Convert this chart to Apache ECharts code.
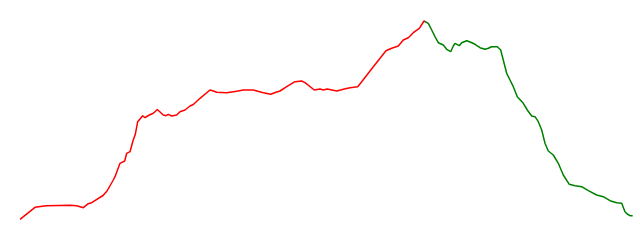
<!DOCTYPE html>
<html>
<head>
<meta charset="utf-8">
<script src="https://cdn.jsdelivr.net/npm/echarts@6/dist/echarts.min.js"></script>
<style>html,body{margin:0;padding:0;background:#fff}#c{width:640px;height:240px}</style>
</head>
<body>
<div id="c"></div>
<script>
var distance = [0,15,26,50,52,56.7,63.3,68.3,71.7,83,87,93.3,95,100,104.7,106.7,110,112.7,115.3,117.7,120,122.7,125,129.3,133.3,137.3,139.3,143.3,146,148.3,151.7,156.7,160,165,170,173.3,180,190,192.7,196.7,206.7,216.7,223.3,233.3,243.3,250.7,256,260,266.7,275,281.7,285,294.3,300,303.3,307.3,316.7,323.3,330,337.7,341.7,353.3,366,371.7,378.3,383.3,388.3,393.3,399.3,404,405.5,408.3,411.7,415,418.3,423.3,426.7,430.7,433.3,435,439.3,441.7,446.7,450.7,455,460,465,468.3,471.7,477.3,480.7,485,486.7,490,493.3,497.3,503.3,507.3,511.7,515,518.3,521.7,525,528.3,533.3,538.3,543.3,549.3,555,561.7,568.3,576.7,583.3,590,596.7,601.7,605,607.3,610,612.7];
var elevation = [0.7,12.7,14.3,14.7,15.7,14.3,12.3,16.3,17.3,24.5,29,40,43.3,56.7,59,66.7,68.3,78.3,85.7,98.3,101,104.3,102.3,105,106.7,110.5,110,105,104.3,105.7,104,105,108.3,110,114,115.5,121.7,130,129.3,127.7,127.3,128.7,130,130,127.3,125.7,127.7,129,133.3,138.3,139,137.3,130,131,130,131,129,130.7,132.3,133.3,138.3,153.3,169.3,171.7,174,180,182.3,187.3,191.7,199,200,196.7,190,183.3,177.3,175,170.7,168.3,174,176.7,174.3,177.3,179.3,177.7,175.7,172.3,170.7,171.7,173.3,173.3,170,153.3,146.7,140,133.3,123.3,116.7,110,104,103.3,98.3,90,76.7,69,65,56.7,45,35.7,34.3,33.3,29.3,25,23.3,19.3,17.3,16.7,8.3,6,4.3,4.3];
var splitAt = 405.5;

var data = distance.map(function(d,i){return [d, elevation[i]];});
var chart = echarts.init(document.getElementById('c'));
chart.setOption({
  animation: false,
  grid: {left: 20, top: 20, width: 613, height: 200},
  xAxis: {type: 'value', min: 0, max: 613, show: false},
  yAxis: {type: 'value', min: 0, max: 200, show: false},
  visualMap: {
    show: false,
    dimension: 0,
    pieces: [
      {gt: 0, lte: splitAt, color: 'red'},
      {gt: splitAt, color: 'green'}
    ],
    outOfRange: {color: '#5470c6'}
  },
  series: [{
    type: 'line',
    data: data,
    showSymbol: false,
    lineStyle: {width: 1.5}
  }]
});
</script>
</body>
</html>
